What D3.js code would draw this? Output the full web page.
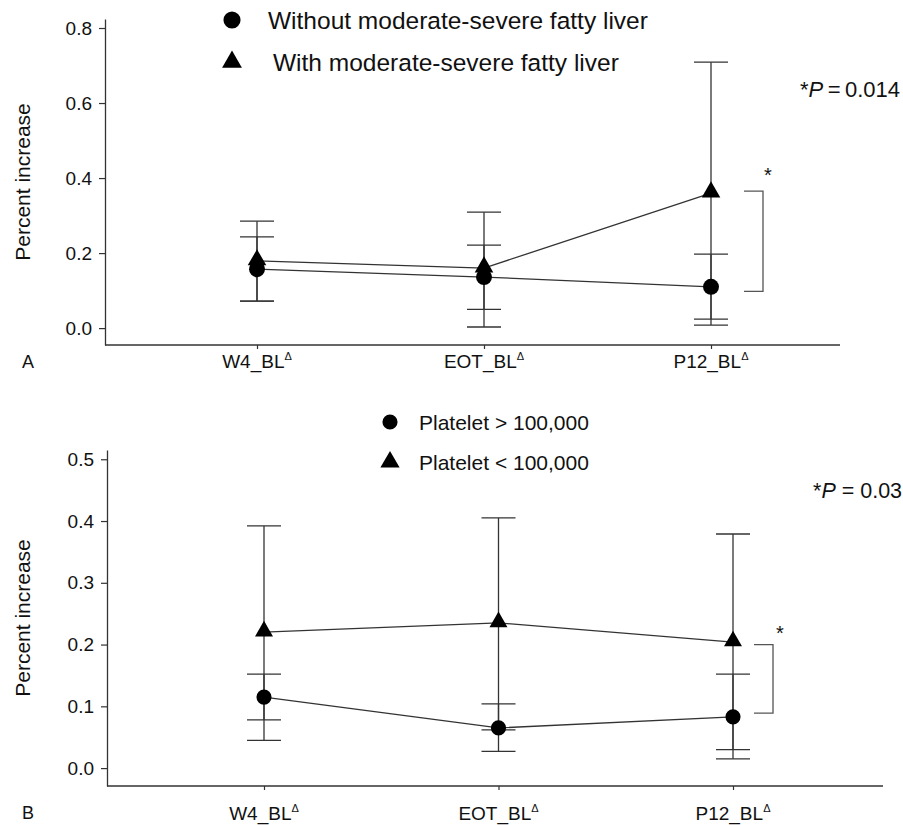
<!DOCTYPE html>
<html>
<head>
<meta charset="utf-8">
<script src="https://cdn.jsdelivr.net/npm/d3@7"></script>
<style>
  html, body { margin: 0; padding: 0; background: #fff; }
  svg text { font-family: "Liberation Sans", Arial, Helvetica, sans-serif; fill: #111; }
</style>
</head>
<body>
<svg id="chart" width="903" height="825"></svg>
<script>
// ---------- DATA ----------
const categories = ["W4_BL", "EOT_BL", "P12_BL"];

// Panel A
const legendA = ["Without moderate-severe fatty liver", "With moderate-severe fatty liver"];
const withoutMean  = [0.157, 0.136, 0.110];
const withoutLower = [0.072, 0.050, 0.024];
const withoutUpper = [0.243, 0.221, 0.197];
const withMean     = [0.179, 0.160, 0.360];
const withLower    = [0.072, 0.003, 0.008];
const withUpper    = [0.285, 0.309, 0.709];
const ticksA = [0.0, 0.2, 0.4, 0.6, 0.8];
const bracketA = [0.365, 0.098];
const pTextA = "0.014";

// Panel B
const legendB = ["Platelet > 100,000", "Platelet < 100,000"];
const aboveMean  = [0.115, 0.065, 0.083];
const aboveLower = [0.078, 0.062, 0.030];
const aboveUpper = [0.152, 0.104, 0.152];
const belowMean  = [0.220, 0.235, 0.204];
const belowLower = [0.045, 0.027, 0.015];
const belowUpper = [0.392, 0.405, 0.379];
const ticksB = [0.0, 0.1, 0.2, 0.3, 0.4, 0.5];
const bracketB = [0.200, 0.089];
const pTextB = "0.03";

// ---------- DRAW ----------
const svg = d3.select("#chart");
const lineColor = "#333";

function panel(cfg) {
  const g = svg.append("g");
  const y = d3.scaleLinear().domain(cfg.yDomain).range([cfg.bottom, cfg.top]);
  const x = d3.scalePoint().domain(categories).range(cfg.xPts);

  // y axis
  const yAxis = d3.axisLeft(y).tickValues(cfg.ticks).tickFormat(d3.format(".1f"))
    .tickSize(6).tickPadding(7).tickSizeOuter(0);
  const ya = g.append("g").attr("transform", `translate(${cfg.left},0)`).call(yAxis);
  ya.select(".domain").attr("stroke", lineColor).attr("stroke-width", 1.3);
  ya.selectAll(".tick line").attr("stroke", lineColor).attr("stroke-width", 1.2);
  ya.selectAll(".tick text").attr("font-size", 19).attr("fill", "#111")
    .attr("font-family", "Liberation Sans, Arial, sans-serif");

  // x axis
  const xAxis = d3.axisBottom(x).tickSize(4).tickSizeOuter(0).tickFormat("");
  const xa = g.append("g").attr("transform", `translate(0,${cfg.bottom})`).call(xAxis);
  xa.select(".domain").remove();
  xa.selectAll(".tick line").attr("stroke", lineColor).attr("stroke-width", 1.2);
  g.append("line").attr("x1", cfg.left).attr("x2", cfg.right)
    .attr("y1", cfg.bottom).attr("y2", cfg.bottom)
    .attr("stroke", lineColor).attr("stroke-width", 1.3);

  // x tick labels with superscript delta
  categories.forEach(c => {
    const t = g.append("text").attr("x", x(c)).attr("y", cfg.xLabelY)
      .attr("text-anchor", "middle").attr("font-size", 19);
    t.append("tspan").text(c);
    t.append("tspan").attr("dy", -8).attr("font-size", 11).text("\u0394");
  });

  // y label
  g.append("text")
    .attr("transform", `translate(${cfg.yLabelX},${(cfg.top + cfg.bottom) / 2}) rotate(-90)`)
    .attr("text-anchor", "middle").attr("font-size", 21).text("Percent increase");

  // panel letter
  g.append("text").attr("x", 22).attr("y", cfg.letterY).attr("font-size", 18).text(cfg.letter);

  const capHalf = 17;
  const series = cfg.series;
  // lines
  series.forEach(s => {
    const line = d3.line().x((d, i) => x(categories[i])).y(d => y(d));
    g.append("path").datum(s.mean).attr("d", line)
      .attr("fill", "none").attr("stroke", lineColor).attr("stroke-width", 1.3);
  });
  // error bars
  series.forEach(s => {
    categories.forEach((c, i) => {
      const cx = x(c);
      g.append("line").attr("x1", cx).attr("x2", cx)
        .attr("y1", y(s.lower[i])).attr("y2", y(s.upper[i]))
        .attr("stroke", lineColor).attr("stroke-width", 1.3);
      [s.lower[i], s.upper[i]].forEach(v => {
        g.append("line").attr("x1", cx - capHalf).attr("x2", cx + capHalf)
          .attr("y1", y(v)).attr("y2", y(v))
          .attr("stroke", lineColor).attr("stroke-width", 1.3);
      });
    });
  });
  // markers
  series.forEach(s => {
    const sym = d3.symbol().type(s.shape === "circle" ? d3.symbolCircle : d3.symbolTriangle)
      .size(s.shape === "circle" ? cfg.circleSize : cfg.triSize);
    categories.forEach((c, i) => {
      g.append("path").attr("d", sym())
        .attr("transform", `translate(${x(c)},${y(s.mean[i]) + (s.shape === "circle" ? 0 : -1)})`)
        .attr("fill", "#000");
    });
  });

  // bracket
  const bx = cfg.bracketX, bw = 19;
  g.append("path")
    .attr("d", `M${bx - bw},${y(cfg.bracket[0])}H${bx}V${y(cfg.bracket[1])}H${bx - bw}`)
    .attr("fill", "none").attr("stroke", "#555").attr("stroke-width", 1.3);
  g.append("text").attr("x", cfg.starX).attr("y", cfg.starY)
    .attr("text-anchor", "middle").attr("font-size", 20).text("*");

  // P text
  const pt = g.append("text").attr("x", cfg.pX).attr("y", cfg.pY).attr("font-size", cfg.pSize);
  pt.append("tspan").text("*");
  pt.append("tspan").attr("font-style", "italic").text("P");
  pt.append("tspan").text(cfg.pSep + cfg.pVal);

  // legend
  cfg.legend.forEach((lab, i) => {
    const ly = cfg.legendY[i];
    const sym = d3.symbol().type(i === 0 ? d3.symbolCircle : d3.symbolTriangle)
      .size(i === 0 ? cfg.legCircle : cfg.legTri);
    g.append("path").attr("d", sym()).attr("transform", `translate(${cfg.legendX},${ly})`).attr("fill", "#000");
    g.append("text").attr("x", cfg.legendTextX[i]).attr("y", ly + cfg.legendFont * 0.36)
      .attr("font-size", cfg.legendFont).text(lab);
  });
}

panel({
  letter: "A", letterY: 368,
  top: 19, bottom: 345, left: 105, right: 840,
  yDomain: [-0.045, 0.824], ticks: ticksA,
  xPts: [257, 711], xLabelY: 368, yLabelX: 30,
  series: [
    { shape: "circle", mean: withoutMean, lower: withoutLower, upper: withoutUpper },
    { shape: "triangle", mean: withMean, lower: withLower, upper: withUpper }
  ],
  circleSize: 200, triSize: 150,
  bracket: bracketA, bracketX: 763, starX: 768, starY: 182,
  pX: 800, pY: 97, pSize: 22, pSep: "\u2009=\u2009", pVal: pTextA,
  legend: legendA, legendX: 232, legendY: [20, 62], legendTextX: [268, 273],
  legendFont: 24.5, legCircle: 230, legTri: 170
});

panel({
  letter: "B", letterY: 819,
  top: 450, bottom: 786, left: 107, right: 883,
  yDomain: [-0.029, 0.515], ticks: ticksB,
  xPts: [264, 733], xLabelY: 820, yLabelX: 30,
  series: [
    { shape: "circle", mean: aboveMean, lower: aboveLower, upper: aboveUpper },
    { shape: "triangle", mean: belowMean, lower: belowLower, upper: belowUpper }
  ],
  circleSize: 180, triSize: 140,
  bracket: bracketB, bracketX: 773, starX: 780, starY: 640,
  pX: 813, pY: 498, pSize: 21.5, pSep: " = ", pVal: pTextB,
  legend: legendB, legendX: 390, legendY: [422, 462], legendTextX: [419, 419],
  legendFont: 21, legCircle: 180, legTri: 160
});
</script>
</body>
</html>
